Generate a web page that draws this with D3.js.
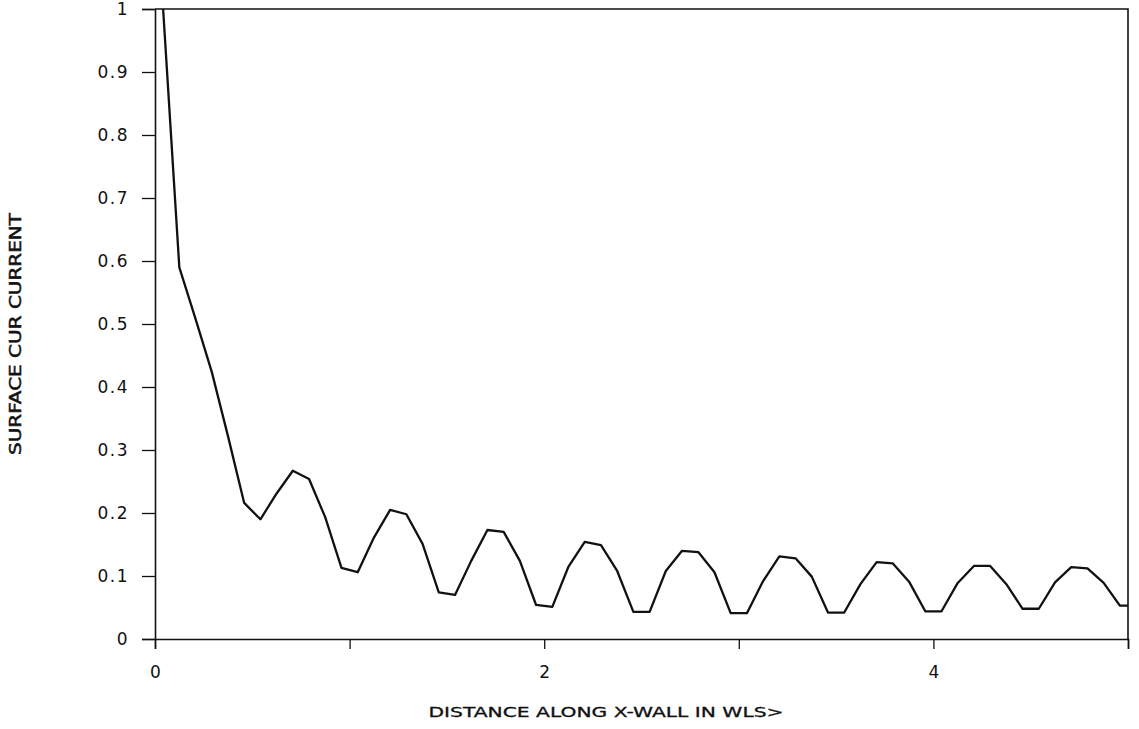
<!DOCTYPE html>
<html>
<head>
<meta charset="utf-8">
<script src="https://cdn.jsdelivr.net/npm/d3@7/dist/d3.min.js"></script>
<style>
  html, body { margin: 0; padding: 0; background: #fff; }
  svg { display: block; }
  text { font-family: "DejaVu Sans", sans-serif; fill: #111; }
</style>
</head>
<body>
<svg id="chart" width="1139" height="729"></svg>
<script>
// Sample positions (in wavelengths) along the x-wall
const distance = [0.0417, 0.125, 0.2083, 0.2917, 0.375, 0.4583, 0.5417, 0.625, 0.7083, 0.7917,
  0.875, 0.9583, 1.0417, 1.125, 1.2083, 1.2917, 1.375, 1.4583, 1.5417, 1.625,
  1.7083, 1.7917, 1.875, 1.9583, 2.0417, 2.125, 2.2083, 2.2917, 2.375, 2.4583,
  2.5417, 2.625, 2.7083, 2.7917, 2.875, 2.9583, 3.0417, 3.125, 3.2083, 3.2917,
  3.375, 3.4583, 3.5417, 3.625, 3.7083, 3.7917, 3.875, 3.9583, 4.0417, 4.125,
  4.2083, 4.2917, 4.375, 4.4583, 4.5417, 4.625, 4.7083, 4.7917, 4.875, 4.9583, 5.0];

// Normalised surface current
const current = [1.000, 0.590, 0.508, 0.424, 0.322, 0.216, 0.190, 0.231, 0.267, 0.254,
  0.193, 0.113, 0.106, 0.161, 0.205, 0.198, 0.151, 0.074, 0.070, 0.124,
  0.173, 0.170, 0.124, 0.054, 0.051, 0.115, 0.154, 0.149, 0.108, 0.043,
  0.043, 0.108, 0.140, 0.138, 0.106, 0.041, 0.041, 0.092, 0.131, 0.128,
  0.099, 0.042, 0.042, 0.087, 0.122, 0.120, 0.091, 0.044, 0.044, 0.089,
  0.116, 0.116, 0.087, 0.048, 0.048, 0.090, 0.114, 0.112, 0.089, 0.053, 0.053];

const xTickValues = [0, 1, 2, 3, 4, 5];
const xTickLabels = ["0", "", "2", "", "4", ""];
const yTickValues = [0, 0.1, 0.2, 0.3, 0.4, 0.5, 0.6, 0.7, 0.8, 0.9, 1];
const yTickLabels = ["0", "0.1", "0.2", "0.3", "0.4", "0.5", "0.6", "0.7", "0.8", "0.9", "1"];

const xTitle = "DISTANCE ALONG X-WALL IN WLS>";
const yTitle = "SURFACE CUR CURRENT";

const svg = d3.select("#chart");
const mLeft = 155, mRight = 1128, mTop = 9, mBottom = 639;

const x = d3.scaleLinear().domain([0, 5]).range([mLeft, mRight]);
const y = d3.scaleLinear().domain([0, 1]).range([mBottom, mTop]);

// Frame (top and right)
svg.append("path")
  .attr("d", `M${x(0)},${y(1)}H${x(5)}V${y(0)}`)
  .attr("fill", "none").attr("stroke", "#111").attr("stroke-width", 1.6);

// X axis
const xAxis = d3.axisBottom(x)
  .tickValues(xTickValues)
  .tickSize(10)
  .tickPadding(17)
  .tickFormat((d, i) => xTickLabels[i]);
const gx = svg.append("g").attr("transform", `translate(0,${mBottom})`).call(xAxis);
gx.select(".domain").attr("stroke", "#111").attr("stroke-width", 1.6);
gx.selectAll(".tick line").attr("stroke", "#111").attr("stroke-width", 1.3);
gx.selectAll(".tick text")
  .attr("font-family", "DejaVu Sans").attr("font-size", 17).attr("fill", "#111");

// Y axis
const yAxis = d3.axisLeft(y)
  .tickValues(yTickValues)
  .tickSize(13)
  .tickPadding(13)
  .tickFormat((d, i) => yTickLabels[i]);
const gy = svg.append("g").attr("transform", `translate(${mLeft},0)`).call(yAxis);
gy.select(".domain").attr("stroke", "#111").attr("stroke-width", 1.6);
gy.selectAll(".tick line").attr("stroke", "#111").attr("stroke-width", 1.3);
gy.selectAll(".tick text")
  .attr("font-family", "DejaVu Sans").attr("font-size", 17).attr("fill", "#111")
  .attr("letter-spacing", 1.5);

// Curve
const pts = distance.map((d, i) => [d, current[i]]);
const line = d3.line().x(d => x(d[0])).y(d => y(d[1]));
svg.append("path")
  .datum(pts)
  .attr("d", line)
  .attr("fill", "none")
  .attr("stroke", "#111")
  .attr("stroke-width", 2.3)
  .attr("stroke-linejoin", "round");

// Titles
svg.append("text")
  .attr("x", 606).attr("y", 717)
  .attr("text-anchor", "middle")
  .attr("font-size", 14)
  .attr("stroke", "#111").attr("stroke-width", 0.3)
  .attr("textLength", 355).attr("lengthAdjust", "spacingAndGlyphs")
  .text(xTitle);

svg.append("text")
  .attr("transform", "translate(21,334) rotate(-90)")
  .attr("text-anchor", "middle")
  .attr("font-size", 15)
  .attr("stroke", "#111").attr("stroke-width", 0.5)
  .attr("textLength", 242).attr("lengthAdjust", "spacingAndGlyphs")
  .text(yTitle);
</script>
</body>
</html>
